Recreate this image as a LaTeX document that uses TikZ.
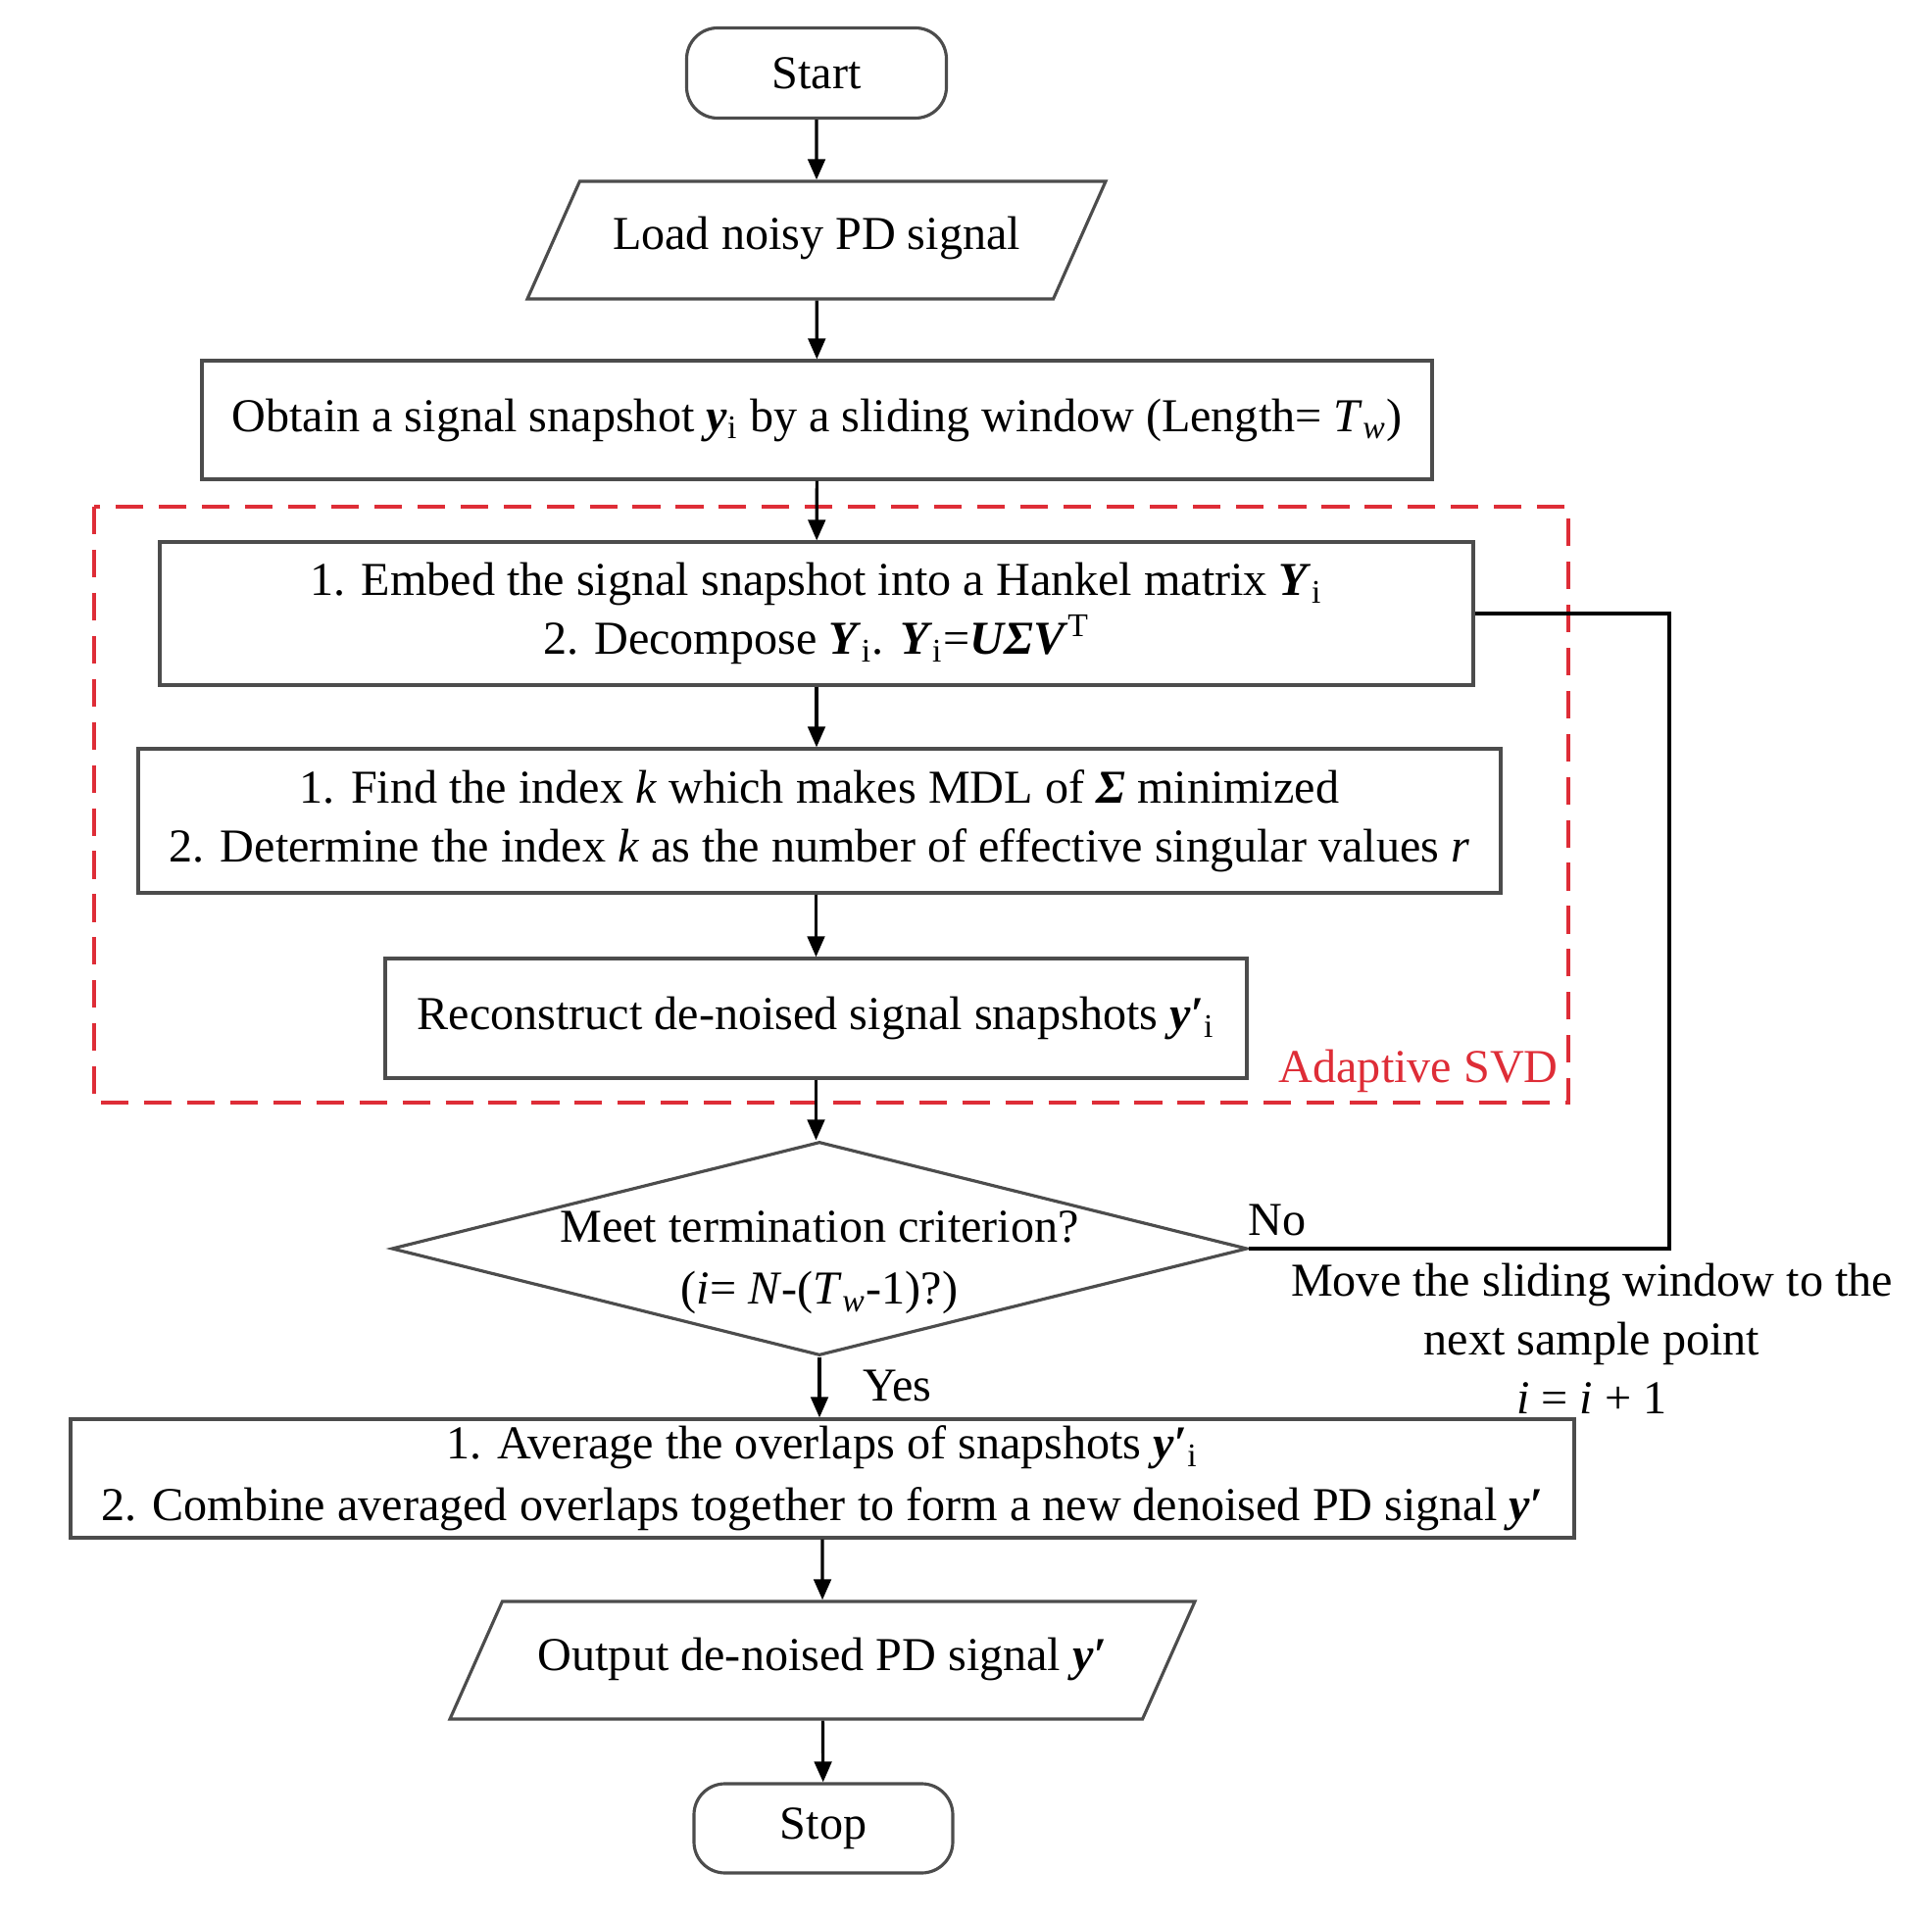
\documentclass[tikz,border=0pt]{standalone}
\usepackage{fontspec}
\setmainfont{Liberation Serif}
\usetikzlibrary{arrows.meta,shapes.geometric}
\definecolor{svdred}{RGB}{222,45,55}
\newcommand{\bi}[1]{\textbf{\textit{#1}}}

\begin{document}
\begin{tikzpicture}[>={Triangle[length=6pt,width=5pt]},
  font=\fontsize{13.7}{17}\selectfont,
  box/.style={draw=black!70,line width=0.9pt,rectangle,align=center,inner sep=0pt},
  term/.style={box,rounded corners=9pt,minimum width=2.65cm,minimum height=0.92cm},
  io/.style={draw=black!70,line width=0.9pt,trapezium,trapezium left angle=66,
    trapezium right angle=114,trapezium stretches body,text height=0.3cm,text depth=0.1cm,
    inner ysep=0.4cm,inner xsep=0pt},
  flow/.style={->,black,line width=0.9pt}]
  \useasboundingbox (0,0) rectangle (19.71,-19.58);
  \node[term] (start) at (8.33,-0.745) {Start};
  \node[io,minimum width=5.9cm] (load) at (8.33,-2.45) {Load noisy PD signal};
  \node[box,minimum width=12.55cm,minimum height=1.21cm] (obtain) at (8.335,-4.285)
    {Obtain a signal snapshot \bi{y}\textsubscript{i} by a sliding window (Length= \textit{T}\textsubscript{\textit{w}})};
  \draw[svdred,line width=1.2pt,dash pattern=on 8pt off 4.5pt] (0.96,-5.17) rectangle (16.00,-11.25);
  \node[box,minimum width=13.4cm,minimum height=1.46cm] (embed) at (8.33,-6.26)
    {1. Embed the signal snapshot into a Hankel matrix \bi{Y}\textsubscript{i}\\
     2. Decompose \bi{Y}\textsubscript{i}. \bi{Y}\textsubscript{i}=\bi{UΣV}\textsuperscript{T}};
  \node[box,minimum width=13.9cm,minimum height=1.47cm] (find) at (8.36,-8.375)
    {1. Find the index \textit{k} which makes MDL of \bi{Σ} minimized\\
     2. Determine the index \textit{k} as the number of effective singular values \textit{r}};
  \node[box,minimum width=8.79cm,minimum height=1.22cm] (recon) at (8.325,-10.39)
    {Reconstruct de-noised signal snapshots \bi{y′}\textsubscript{i}};
  \node[svdred,anchor=east] (svd) at (16.02,-10.93) {Adaptive SVD};
  \node[draw=black!70,line width=0.9pt,diamond,minimum width=8.73cm,minimum height=2.18cm,inner sep=0pt] (cond) at (8.36,-12.74) {};
  \node[align=center] (condtxt) at (8.36,-12.88)
    {Meet termination criterion?\\[1pt](\textit{i}= \textit{N}-(\textit{T}\textsubscript{\textit{w}}-1)?)};
  \node (no) at (13.03,-12.45) {No};
  \node[align=center] (move) at (16.24,-13.66)
    {Move the sliding window to the\\next sample point\\\textit{i} = \textit{i} + 1};
  \node[anchor=west] (yes) at (8.68,-14.14) {Yes};
  \node[box,minimum width=15.34cm,minimum height=1.21cm] (avg) at (8.39,-15.085)
    {1. Average the overlaps of snapshots \bi{y′}\textsubscript{i}\\[1pt]
     2. Combine averaged overlaps together to form a new denoised PD signal \bi{y′}};
  \node[io,minimum width=7.6cm] (out) at (8.39,-16.94) {Output de-noised PD signal \bi{y′}};
  \node[term,minimum width=2.64cm,minimum height=0.91cm] (stop) at (8.40,-18.655) {Stop};
  \coordinate (turn) at (17.03,-12.74);
  \draw[flow] (start) -- (load);
  \draw[flow] (load) -- (obtain);
  \draw[flow] (obtain) -- (embed);
  \draw[flow] (embed) -- (embed |- find.north);
  \draw[flow] (find.south -| recon) -- (recon);
  \draw[flow] (recon) -- (recon |- cond.north);
  \draw[flow] (cond.south) -- (cond.south |- avg.north);
  \draw[flow] (avg) -- (out);
  \draw[flow] (out) -- (stop);
  \draw[black,line width=0.9pt] (cond.east) -- (turn) |- (embed.east);
\end{tikzpicture}
\end{document}
